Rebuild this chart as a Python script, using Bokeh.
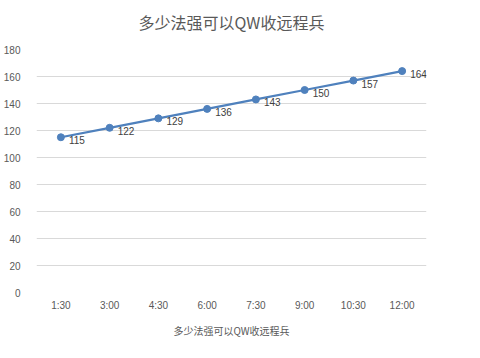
from bokeh.plotting import figure
from bokeh.models import ColumnDataSource, Range1d, LabelSet, SingleIntervalTicker, Title
from bokeh.core.properties import value
from bokeh.embed import file_html
from bokeh.resources import INLINE

categories = ["1:30", "3:00", "4:30", "6:00", "7:30", "9:00", "10:30", "12:00"]
values = [115, 122, 129, 136, 143, 150, 157, 164]
series_name = "多少法强可以QW收远程兵"
title_text = "多少法强可以QW收远程兵"

src = ColumnDataSource(dict(x=categories, y=values, lab=[str(v) for v in values]))

p = figure(frame_width=390, frame_height=243, x_range=categories, y_range=Range1d(0, 180),
           output_backend="svg", toolbar_location=None,
           min_border_left=27, min_border_right=46, min_border_top=0, min_border_bottom=0)
p.title.text = title_text
p.title.align = "center"
p.title.text_font = "Noto Sans CJK SC"
p.title.text_font_size = "16px"
p.title.text_font_style = "normal"
p.title.text_color = "#595959"
p.title.standoff = 14
p.add_layout(Title(text=" ", text_font_size="7px", standoff=0), "above")

p.outline_line_color = None
p.background_fill_color = "white"
p.border_fill_color = "white"

p.yaxis.ticker = SingleIntervalTicker(interval=20)
for ax in (p.xaxis[0], p.yaxis[0]):
    ax.axis_line_color = None
    ax.major_tick_line_color = None
    ax.minor_tick_line_color = None
    ax.major_label_text_font = "Liberation Sans"
    ax.major_label_text_font_size = "10px"
    ax.major_label_text_color = "#595959"
p.xaxis.major_label_standoff = 1
p.yaxis.major_label_standoff = 10
p.xgrid.grid_line_color = None
p.ygrid.grid_line_color = "#d9d9d9"
p.ygrid.grid_line_width = 1

r_line = p.line("x", "y", source=src, line_color="#4f81bd", line_width=2.2)
r_pts = p.scatter("x", "y", source=src, size=7, fill_color="#4f81bd", line_color="#4f81bd")

labels = LabelSet(x="x", y="y", text="lab", source=src, x_offset=8, y_offset=-3,
                  text_font=value("Liberation Sans"), text_font_size="10px",
                  text_color="#404040", text_baseline="middle")
p.add_layout(labels)

legend_title = Title(text=series_name, align="center", text_font="Noto Sans CJK SC",
                     text_font_size="10px", text_font_style="normal",
                     text_color="#595959", standoff=14)
p.add_layout(legend_title, "below")

open("out.html", "w").write(file_html(p, INLINE))
